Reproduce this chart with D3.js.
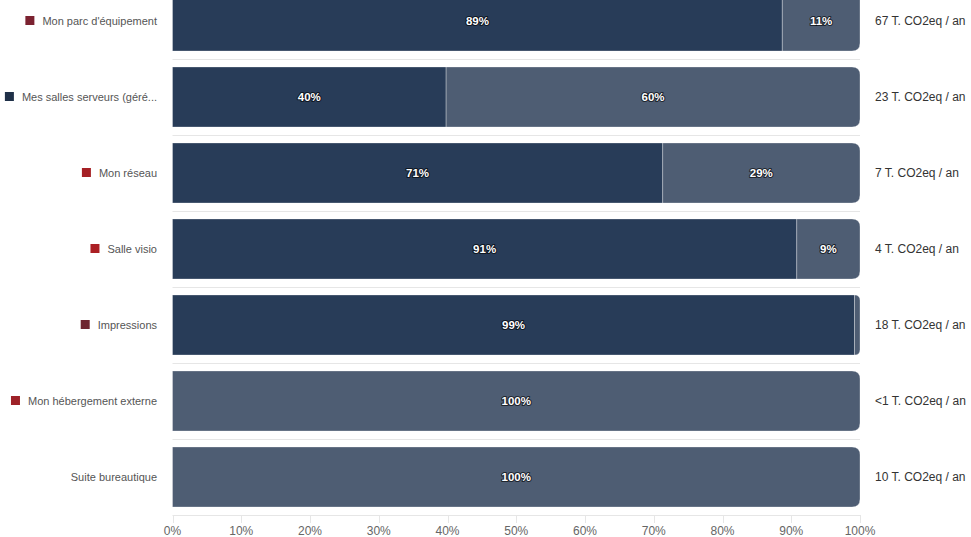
<!DOCTYPE html>
<html><head><meta charset="utf-8">
<script src="https://cdn.jsdelivr.net/npm/d3@7/dist/d3.min.js"></script>
<style>
body{margin:0;background:#fff;}
svg{font-family:"Liberation Sans",Arial,sans-serif;}
</style></head>
<body><svg id="c" width="971" height="537"></svg>
<script>
const categories = ["Mon parc d'équipement","Mes salles serveurs (géré...","Mon réseau","Salle visio","Impressions","Mon hébergement externe","Suite bureautique"];
const markerColors = ["#7b2230","#1f3048","#a52025","#ab1f24","#6e2530","#9e2228",null];
const darkValues = [88.7,39.8,71.3,90.8,99.2,0,0];
const lightValues = [11.3,60.2,28.7,9.2,0.8,100,100];
const totals = ["67 T. CO2eq / an","23 T. CO2eq / an","7 T. CO2eq / an","4 T. CO2eq / an","18 T. CO2eq / an","<1 T. CO2eq / an","10 T. CO2eq / an"];
const xTicks = [0,10,20,30,40,50,60,70,80,90,100];

const svg = d3.select("#c");
const x = d3.scaleLinear().domain([0,100]).range([172.5,860]);
const y = d3.scaleBand().domain(categories).range([-17,515]).paddingInner(0.21).paddingOuter(0.105);
const darkC = "#283c58", lightC = "#4e5d73";

const band = y.step();
svg.append("g").selectAll("line").data(categories).join("line")
  .attr("x1",172.5).attr("x2",860)
  .attr("y1",d=>Math.round(y(d)+y.bandwidth()/2+band/2)+0.5)
  .attr("y2",d=>Math.round(y(d)+y.bandwidth()/2+band/2)+0.5)
  .attr("stroke","#e6e6e6");

const ax = svg.append("g").attr("transform","translate(0,515)");
ax.selectAll("line").data(xTicks).join("line")
  .attr("x1",d=>Math.round(x(d))+0.5).attr("x2",d=>Math.round(x(d))+0.5)
  .attr("y1",0).attr("y2",8).attr("stroke","#e6e6e6");
ax.selectAll("text").data(xTicks).join("text")
  .attr("x",d=>x(d)).attr("y",19.5).attr("text-anchor","middle")
  .attr("font-size",12).attr("fill","#666").text(d=>d+"%");

function pathFor(x0,x1,y0,h,roundRight){
  const r = Math.min(8,(x1-x0));
  if(!roundRight||r<=0) return `M${x0},${y0}H${x1}V${y0+h}H${x0}Z`;
  return `M${x0},${y0}H${x1-r}Q${x1},${y0} ${x1},${y0+r}V${y0+h-r}Q${x1},${y0+h} ${x1-r},${y0+h}H${x0}Z`;
}

const rows = svg.append("g").selectAll("g").data(categories).join("g");
rows.each(function(c,i){
  const g = d3.select(this);
  const y0 = y(c), h = y.bandwidth();
  const d = darkValues[i], l = lightValues[i];
  if(d>0){
    g.append("path").attr("d",pathFor(x(0),x(d),y0,h,l===0)).attr("fill",darkC).attr("stroke","#ffffff").attr("stroke-opacity",0.3).attr("stroke-width",1);
  }
  if(l>0){
    g.append("path").attr("d",pathFor(x(d),x(d+l),y0,h,true)).attr("fill",lightC).attr("stroke","#ffffff").attr("stroke-opacity",0.3).attr("stroke-width",1);
  }
  const lbl=(v,cx)=>g.append("text").attr("x",cx).attr("y",y0+h/2+4).attr("text-anchor","middle")
    .attr("font-size",11.5).attr("font-weight","bold").attr("fill","#fff")
    .attr("stroke","rgba(0,0,0,0.6)").attr("stroke-width",2.2).attr("paint-order","stroke").attr("stroke-linejoin","round")
    .text(Math.round(v)+"%");
  if(d>=3) lbl(d,(x(0)+x(d))/2);
  if(l>=3) lbl(l,(x(d)+x(d+l))/2);
  g.append("text").attr("x",875).attr("y",y0+h/2+4).attr("font-size",12).attr("fill","#333").text(totals[i]);
  const t = g.append("text").attr("x",157).attr("y",y0+h/2+4).attr("text-anchor","end").attr("font-size",11).attr("fill","#555").text(c);
  if(markerColors[i]){
    const w = t.node().getComputedTextLength();
    g.append("rect").attr("x",157-w-17).attr("y",y0+h/2-5).attr("width",9).attr("height",9).attr("fill",markerColors[i]);
  }
});
</script></body></html>
